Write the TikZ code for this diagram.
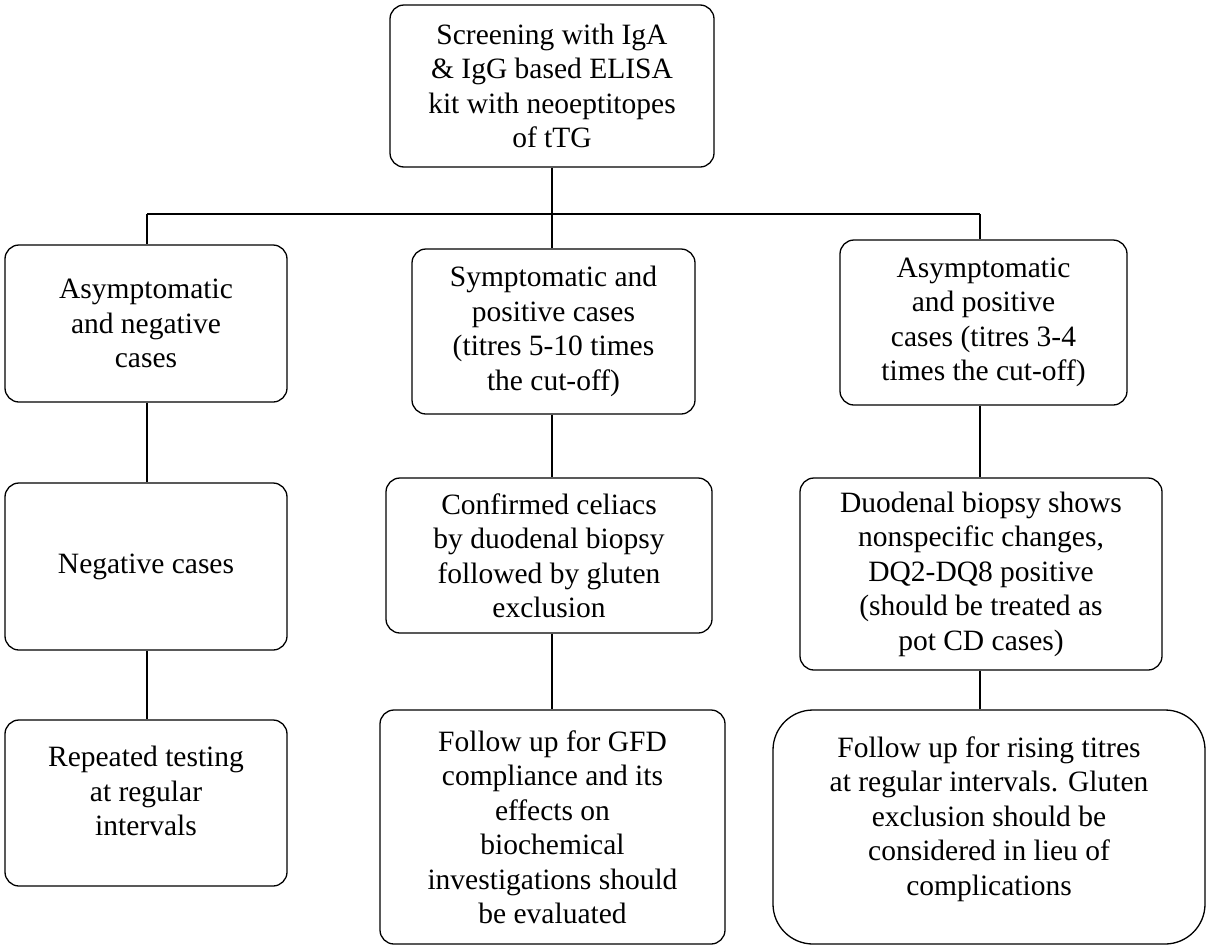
\documentclass[tikz,border=0pt]{standalone}
\usepackage{fontspec}
\setmainfont{Liberation Serif}
\begin{document}
\begin{tikzpicture}[x=1pt,y=-1pt,
  bx/.style={draw,line width=1.3pt,rounded corners=14pt,align=center,inner sep=0pt},
  tx/.style={align=center,font=\fontsize{29.5}{34.5}\selectfont},
  ln/.style={line width=1.3pt}]
\useasboundingbox (0,0) rectangle (1212,948);
\newcommand{\bxat}[6]{\node[bx,#6,minimum width={#3-#1},minimum height={#4-#2}] (#5) at ({(#1+#3)/2},{(#2+#4)/2}) {};}
\bxat{390}{5}{714}{167}{top}{}
\node[tx] at (top) {Screening with IgA\\ \& IgG based ELISA\\ kit with neoeptitopes\\ of tTG};
\bxat{5}{245}{287}{402}{a1}{}
\node[tx] at (a1) {Asymptomatic\\ and negative\\ cases};
\bxat{412}{249}{695}{414}{b1}{}
\node[tx] at (b1) {Symptomatic and\\ positive cases\\ (titres 5-10 times\\ the cut-off)};
\bxat{840}{240}{1127}{405}{c1}{}
\node[tx] at (c1) {Asymptomatic\\ and positive\\ cases (titres 3-4\\ times the cut-off)};
\bxat{5}{483}{287}{650}{a2}{}
\node[tx] at (a2) {Negative cases};
\bxat{386}{478}{712}{633}{b2}{}
\node[tx] at (b2) {Confirmed celiacs\\ by duodenal biopsy\\ followed by gluten\\ exclusion};
\bxat{800}{478}{1162}{670}{c2}{}
\node[tx] at (c2) {Duodenal biopsy shows\\ nonspecific changes,\\ DQ2-DQ8 positive\\ (should be treated as\\ pot CD cases)};
\bxat{5}{720}{287}{886}{a3}{}
\node[tx] at ([yshift=12]a3) {Repeated testing\\ at regular\\ intervals};
\bxat{380}{710}{725}{944}{b3}{}
\node[tx] at (b3) {Follow up for GFD\\ compliance and its\\ effects on\\ biochemical\\ investigations should\\ be evaluated};
\bxat{773}{710}{1205}{944}{c3}{rounded corners=40pt}
\node[tx] at ([yshift=8]c3) {Follow up for rising titres\\ at regular intervals. Gluten\\ exclusion should be\\ considered in lieu of\\ complications};
\coordinate (j) at (552,214);
\coordinate (ja) at (147,214);
\coordinate (jc) at (980,214);
\draw[ln] (top.south -| j) -- (j);
\draw[ln] (ja) -- (jc);
\draw[ln] (ja) -- (a1.north -| ja);
\draw[ln] (j) -- (b1.north -| j);
\draw[ln] (jc) -- (c1.north -| jc);
\draw[ln] (a1.south -| ja) -- (a2.north -| ja);
\draw[ln] (a2.south -| ja) -- (a3.north -| ja);
\draw[ln] (b1.south -| j) -- (b2.north -| j);
\draw[ln] (b2.south -| j) -- (b3.north -| j);
\draw[ln] (c1.south -| jc) -- (c2.north -| jc);
\draw[ln] (c2.south -| jc) -- (c3.north -| jc);
\end{tikzpicture}
\end{document}
